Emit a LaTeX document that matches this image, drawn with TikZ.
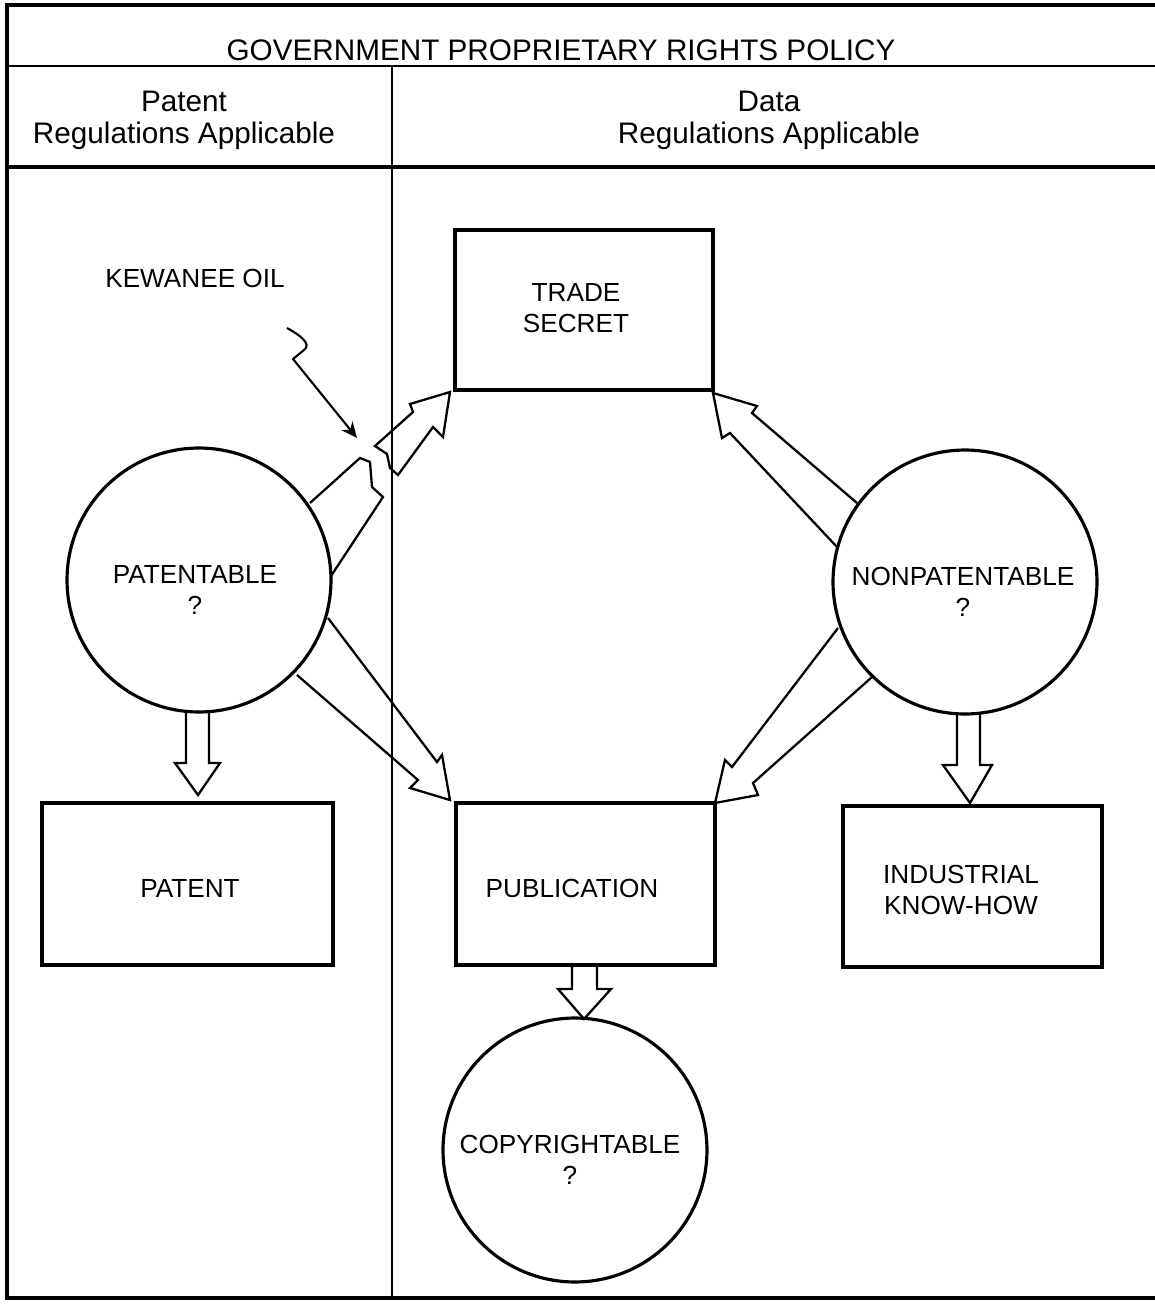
\documentclass[tikz,border=0pt]{standalone}
\usepackage{fontspec}
\setmainfont{Liberation Sans}
\usetikzlibrary{arrows.meta}
\begin{document}
\begin{tikzpicture}[x=0.02cm,y=-0.02cm,
  box/.style={draw, line width=2.2pt, rectangle, inner sep=0pt},
  ring/.style={draw, line width=1.8pt, circle, inner sep=0pt, minimum size=5.28cm},
  lbl/.style={font=\fontsize{14.9}{18}\selectfont, align=center, inner sep=0pt},
  hdr/.style={font=\fontsize{16.9}{18.2}\selectfont, align=center, inner sep=0pt},
  blk/.style={line width=1.3pt, line join=miter},
  frame/.style={line width=1.4pt},
]
\useasboundingbox (0,0) rectangle (1155,1309);

% frame
\draw[frame, line width=1.8pt] (1155,5) -- (7,5) -- (7,1298) -- (1155,1298);
\draw[frame, line width=1.2pt] (7,66) -- (1155,66);
\draw[frame, line width=2.2pt] (7,167) -- (1155,167);
\draw[frame, line width=1.1pt] (392,66) -- (392,1298);

% header texts
\node[hdr] (title) at (561,50) {GOVERNMENT PROPRIETARY RIGHTS POLICY};
\node[hdr] (pathdr) at (184,120) {Patent\\Regulations Applicable};
\node[hdr] (datahdr) at (769,120) {Data\\Regulations Applicable};

% boxes
\node[box, minimum width=5.16cm, minimum height=3.2cm] (trade) at (584,310) {};
\node[box, minimum width=5.82cm, minimum height=3.24cm] (patent) at (187.5,884) {};
\node[box, minimum width=5.18cm, minimum height=3.24cm] (publ) at (585.5,884) {};
\node[box, minimum width=5.18cm, minimum height=3.22cm] (indus) at (972.5,886.5) {};

\node[lbl] (tradetxt) at (576,308) {TRADE\\SECRET};
\node[lbl] (patenttxt) at (190,888) {PATENT};
\node[lbl] (publtxt) at (572,888) {PUBLICATION};
\node[lbl] (industxt) at (961,890) {INDUSTRIAL\\KNOW-HOW};

% circles
\node[ring] (patable) at (199,580) {};
\node[ring] (nonpat) at (965,582) {};
\node[ring] (copy) at (575,1150) {};

\node[lbl] (patabletxt) at (195,590) {PATENTABLE\\?};
\node[lbl] (nonpattxt) at (963,592) {NONPATENTABLE\\?};
\node[lbl] (copytxt) at (570,1160) {COPYRIGHTABLE\\?};

% Kewanee oil
\node[lbl] (kew) at (195,278) {KEWANEE OIL};
\coordinate (kewtail) at (287,328);
\coordinate (kewtip) at (357,438);
\draw[line width=1.2pt, -{Stealth[length=9pt,width=8pt]}]
  (kewtail) .. controls (300,335) and (312,344) .. (304,350)
  -- (293,359) -- (kewtip);

% block arrow: patentable -> trade secret (broken)
\draw[blk] (310,503) -- (360,458) -- (370,462) -- (372,487) -- (383,497) -- (331,576);
\draw[blk] (375,446) -- (413,412) -- (410,404) -- (450,392) -- (443,437)
  -- (433,427) -- (398,475) -- (390,468) -- (387,454) -- cycle;

% block arrow: patentable -> publication
\draw[blk] (328,618) -- (437,762) -- (442,755) -- (450,800) -- (410,788) -- (418,780) -- (297,675);

% block arrow: nonpatentable -> trade secret
\draw[blk] (857,503) -- (752,413) -- (757,406) -- (713,393) -- (722,438) -- (730,433) -- (837,547);

% block arrow: nonpatentable -> publication
\draw[blk] (838,628) -- (732,767) -- (725,760) -- (715,803) -- (758,795) -- (753,783) -- (872,677);

% vertical block arrows
\draw[blk] (186,710) -- (186,763) -- (175,763) -- (198,795) -- (220,763) -- (209,763) -- (209,710);
\draw[blk] (957,713) -- (957,765) -- (943,765) -- (970,803) -- (992,765) -- (980,765) -- (980,713);
\draw[blk] (572,965) -- (572,989) -- (558,989) -- (584,1019) -- (611,989) -- (597,989) -- (597,965);

\end{tikzpicture}
\end{document}
